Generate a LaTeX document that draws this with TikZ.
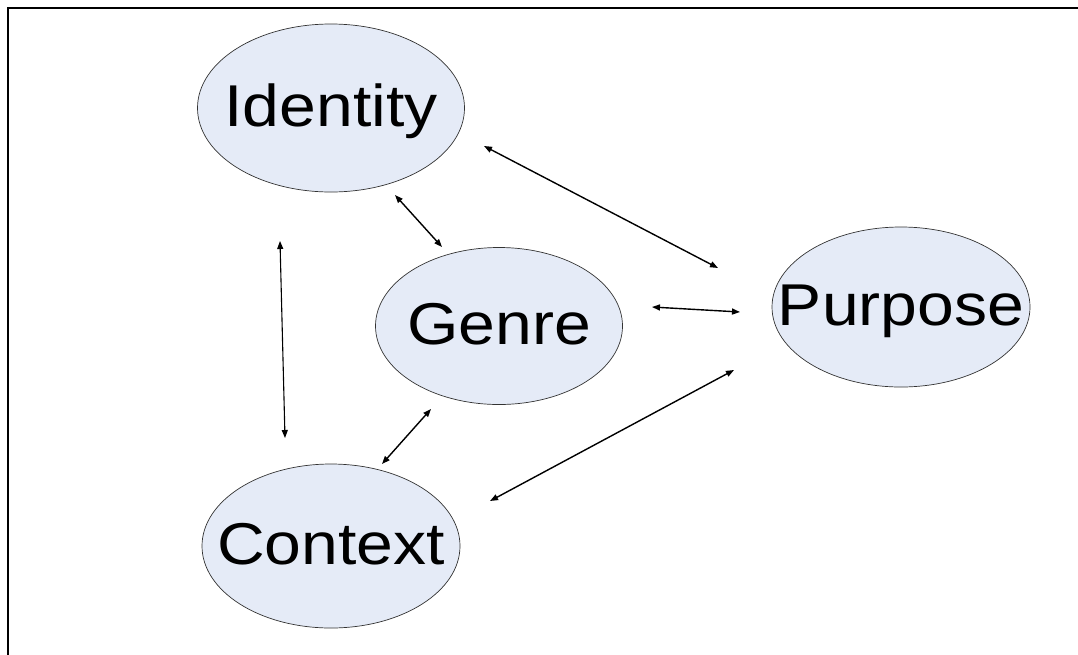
\documentclass[tikz,border=0pt]{standalone}
\usepackage{fontspec}
\setmainfont{Liberation Sans}[FakeStretch=1.12]
\usetikzlibrary{arrows.meta,shapes.geometric,calc}
\definecolor{bubblefill}{RGB}{229,235,247}

\begin{document}
\begin{tikzpicture}[
  x=1pt, y=-1pt,
  >={Triangle[length=8pt,width=6pt]},
  bubble/.style={ellipse, draw=black!80, line width=0.7pt, fill=bubblefill, inner sep=0pt},
  word/.style={font=\fontsize{59}{59}\selectfont, text height=42pt, text depth=6pt, inner sep=0pt},
  link/.style={<->, line width=1.4pt},
]
\useasboundingbox (0,0) rectangle (1078,654);
\clip (0,0) rectangle (1078,654);

% frame (runs off the page on the right and at the bottom)
\draw[line width=2.8pt] (8,700) -- (8,8) -- (1120,8);

% the four ellipses
\node[bubble, minimum width=267pt, minimum height=168pt] (identity) at (331,108) {};
\node[bubble, minimum width=247pt, minimum height=157pt] (genre)    at (499,326) {};
\node[bubble, minimum width=258pt, minimum height=160pt] (purpose)  at (901,307) {};
\node[bubble, minimum width=258pt, minimum height=164pt] (context)  at (331,546) {};

% their words
\node[word] (identityText) at (identity) {Identity};
\node[word] (genreText)    at (genre)    {Genre};
\node[word] (purposeText)  at (purpose)  {Purpose};
\node[word] (contextText)  at (context)  {Context};

% arrow ends, just off the ellipses
\coordinate (id-pu) at ($(identity)+(153,38)$);
\coordinate (id-ge) at ($(identity)+(64,87)$);
\coordinate (id-co) at ($(identity)+(-51,133)$);
\coordinate (pu-id) at ($(purpose)+(-183,-39)$);
\coordinate (pu-ge) at ($(purpose)+(-161,5)$);
\coordinate (pu-co) at ($(purpose)+(-167,63)$);
\coordinate (ge-id) at ($(genre)+(-57,-79)$);
\coordinate (ge-pu) at ($(genre)+(153,-19)$);
\coordinate (ge-co) at ($(genre)+(-68,83)$);
\coordinate (co-id) at ($(context)+(-46,-108)$);
\coordinate (co-ge) at ($(context)+(51,-82)$);
\coordinate (co-pu) at ($(context)+(159,-45)$);

% links
\draw[link] (id-pu) -- (pu-id);
\draw[link] (id-ge) -- (ge-id);
\draw[link, line width=1.1pt] (id-co) -- (co-id);
\draw[link] (ge-pu) -- (pu-ge);
\draw[link] (ge-co) -- (co-ge);
\draw[link] (co-pu) -- (pu-co);

\end{tikzpicture}
\end{document}
